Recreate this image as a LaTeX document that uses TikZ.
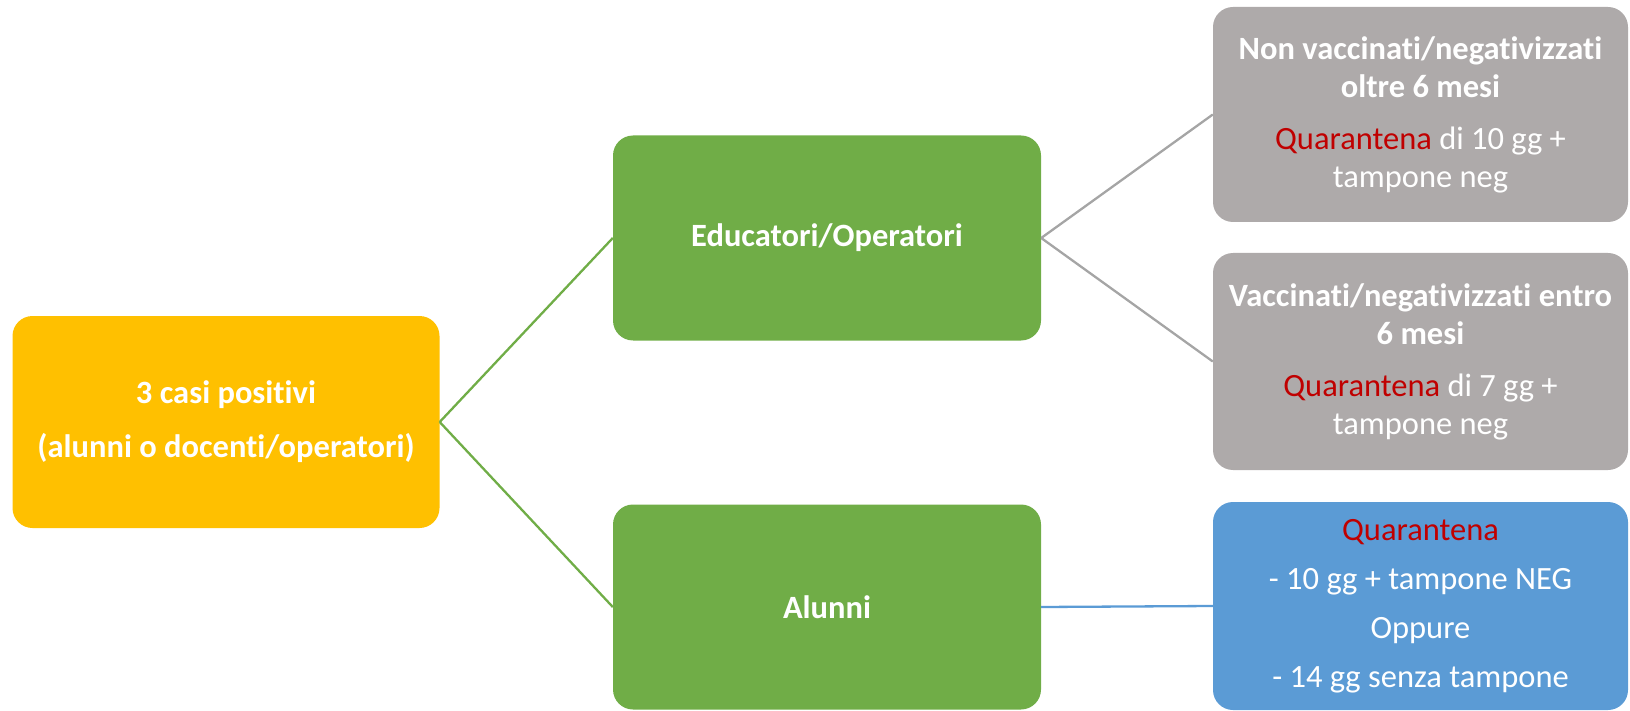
\documentclass[tikz,border=0pt]{standalone}
\usepackage{fontspec}
\setmainfont{Carlito}[Ligatures={NoCommon,NoContextual}]
\usepackage{xcolor}
\usepackage{tikz}

\definecolor{casiorange}{HTML}{FFC000}
\definecolor{grpgreen}{HTML}{70AD47}
\definecolor{vacgray}{HTML}{AEAAAA}
\definecolor{linegray}{HTML}{A5A5A5}
\definecolor{quarblue}{HTML}{5B9BD5}
\definecolor{quarred}{HTML}{C00000}

\tikzstyle{box} = [rounded corners=20pt, inner sep=0pt, align=center, text=white, font=\fontsize{32.5}{38}\selectfont]
\tikzstyle{link} = [line width=2.3pt]

\begin{document}
\begin{tikzpicture}[x=1pt,y=-1pt]
	\useasboundingbox (0,0) rectangle (1630,711);
	
	% Boxes:
	% Left box, the two groups in the middle, the rules on the right
	\node [box, fill=casiorange, minimum width=427pt, minimum height=212pt] (casi) at (226,422)
		{\textbf{3 casi positivi}\\[16pt]\textbf{(alunni o docenti/operatori)}};
	
	\node [box, fill=grpgreen, minimum width=428pt, minimum height=205pt] (educ) at (827,238) {\textbf{Educatori/Operatori}};
	\node [box, fill=grpgreen, minimum width=428pt, minimum height=205pt] (alun) at (827,607) {\textbf{Alunni}};
	
	\node [box, fill=vacgray, minimum width=415pt, minimum height=215pt] (nonvac) at (1420.5,114.5)
		{\textbf{Non vaccinati/negativizzati}\\\textbf{oltre 6 mesi}\\[14pt]
		\textcolor{quarred}{Quarantena} di 10 gg +\\tampone neg};
	\node [box, fill=vacgray, minimum width=415pt, minimum height=217pt] (vac) at (1420.5,361.5)
		{\textbf{Vaccinati/negativizzati entro}\\\textbf{6 mesi}\\[14pt]
		\textcolor{quarred}{Quarantena} di 7 gg +\\tampone neg};
	
	\node [box, fill=quarblue, minimum width=415pt, minimum height=208pt] (quar) at (1420.5,606)
		{\textcolor{quarred}{Quarantena}\\[11pt]- 10 gg + tampone NEG\\[11pt]Oppure\\[11pt]- 14 gg senza tampone};
	
	% Connectors:
	\draw [link, grpgreen] (casi.east) -- (educ.west);
	\draw [link, grpgreen] (casi.east) -- (alun.west);
	\draw [link, linegray] (educ.east) -- (nonvac.west);
	\draw [link, linegray] (educ.east) -- (vac.west);
	\draw [link, quarblue] (alun.east) -- (quar.west);
	
\end{tikzpicture}
\end{document}
